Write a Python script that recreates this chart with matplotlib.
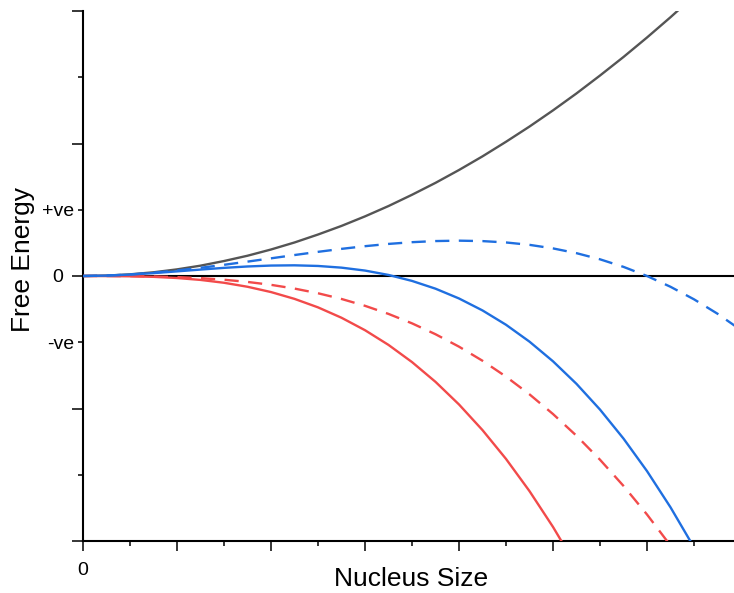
import matplotlib.pyplot as plt
from matplotlib.ticker import FixedLocator

# --- Data ---
SIZE = [0, 0.25, 0.5, 0.75, 1.0, 1.25, 1.5, 1.75, 2.0, 2.25, 2.5, 2.75, 3.0,
        3.25, 3.5, 3.75, 4.0, 4.25, 4.5, 4.75, 5.0, 5.25, 5.5, 5.75, 6.0,
        6.25, 6.5, 6.75, 7.0]

surface = [0, 0.003, 0.0125, 0.028, 0.05, 0.078, 0.113, 0.153, 0.2, 0.253,
           0.313, 0.378, 0.45, 0.528, 0.613, 0.703, 0.8, 0.903, 1.013, 1.128,
           1.25, 1.378, 1.513, 1.653, 1.8, 1.953, 2.113]

total_high = [0, 0.0029, 0.0106, 0.0217, 0.0349, 0.0485, 0.0614, 0.0719,
              0.0788, 0.0806, 0.0758, 0.063, 0.041, 0.008, -0.0371, -0.0957,
              -0.1696, -0.2599, -0.368, -0.4955, -0.6438, -0.8141, -1.0081,
              -1.227, -1.4724, -1.7456, -2.0481]

total_low = [0, 0.003, 0.0115, 0.0246, 0.0417, 0.0618, 0.0844, 0.1085, 0.1333,
             0.1582, 0.1823, 0.2048, 0.225, 0.2421, 0.2552, 0.2637, 0.2667,
             0.2634, 0.2531, 0.2351, 0.2083, 0.1723, 0.126, 0.0689, 0.0,
             -0.0814, -0.176, -0.2848, -0.4083]

volume_high = [0, -0.0002, -0.0019, -0.0064, -0.0152, -0.0296, -0.0511,
               -0.0812, -0.1212, -0.1726, -0.2367, -0.3151, -0.4091, -0.5201,
               -0.6496, -0.7989, -0.9696, -1.1631, -1.3805, -1.6236, -1.8938,
               -2.1922]

volume_low = [0, -0.0001, -0.001, -0.0035, -0.0083, -0.0163, -0.0281, -0.0447,
              -0.0667, -0.0949, -0.1302, -0.1733, -0.225, -0.2861, -0.3573,
              -0.4395, -0.5333, -0.6397, -0.7594, -0.8931, -1.0417, -1.2058,
              -1.3865, -1.5843, -1.8, -2.0345]

# --- Plot ---
plt.rcParams["font.family"] = ["Liberation Sans", "DejaVu Sans"]
fig = plt.figure(figsize=(7.34, 5.93), dpi=100)
ax = fig.add_axes([83 / 734, 52 / 593, 651 / 734, 530 / 593])

RED = "#f24a4a"
BLUE = "#1f6fe0"
GREY = "#555555"

ax.axhline(0, color="black", linewidth=1.5, zorder=1)
ax.plot(SIZE[:len(surface)], surface, color=GREY, linewidth=1.7, zorder=2)
ax.plot(SIZE[:len(volume_high)], volume_high, color=RED, linewidth=1.7, zorder=3)
ax.plot(SIZE[:len(volume_low)], volume_low, color=RED, linewidth=1.7,
        dashes=(6, 4), zorder=3)
ax.plot(SIZE[:len(total_low)], total_low, color=BLUE, linewidth=1.7,
        dashes=(6, 4), zorder=4)
ax.plot(SIZE[:len(total_high)], total_high, color=BLUE, linewidth=1.7, zorder=4)

ax.set_xlim(0, 651 / 94)
ax.set_ylim(-2, 2)

for side in ["top", "right"]:
    ax.spines[side].set_visible(False)
for side in ["left", "bottom"]:
    ax.spines[side].set_linewidth(1.5)

# y ticks: long ones every unit, short ones in between (+ve / -ve labels)
ax.yaxis.set_major_locator(FixedLocator([-2, -1, 0, 1, 2]))
ax.yaxis.set_minor_locator(FixedLocator([-1.5, -0.5, 0.5, 1.5]))
ax.set_yticklabels(["", "", "0", "", ""])
ax.set_yticklabels(["", "-ve", "+ve", ""], minor=True)
ax.tick_params(axis="y", which="major", length=8, width=1.1, labelsize=14, pad=6)
ax.tick_params(axis="y", which="minor", length=3.5, width=1.1, labelsize=14, pad=3)

# x ticks: long ones every unit, short ones in between
ax.xaxis.set_major_locator(FixedLocator([0, 1, 2, 3, 4, 5, 6]))
ax.xaxis.set_minor_locator(FixedLocator([0.5, 1.5, 2.5, 3.5, 4.5, 5.5, 6.5]))
ax.set_xticklabels(["0", "", "", "", "", "", ""])
ax.tick_params(axis="x", which="major", length=7, width=1.1, labelsize=14, pad=8)
ax.tick_params(axis="x", which="minor", length=3.5, width=1.1)

ax.set_xlabel("Nucleus Size", fontsize=19)
ax.xaxis.set_label_coords(0.504, -0.049)
ax.set_ylabel("Free Energy", fontsize=19)
ax.yaxis.set_label_coords(-0.074, 0.532)

plt.savefig("out.png", dpi=100)
